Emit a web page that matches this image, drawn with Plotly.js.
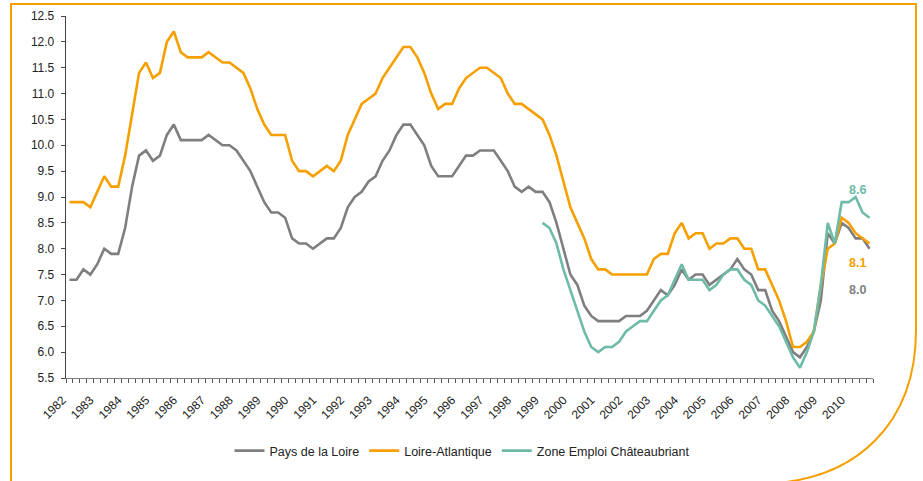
<!DOCTYPE html>
<html>
<head>
<meta charset="utf-8">
<script src="https://cdn.plot.ly/plotly-3.0.1.min.js"></script>
<style>
html,body{margin:0;padding:0;background:#fff;}
#chart{width:923px;height:481px;}
</style>
</head>
<body>
<div id="chart"></div>
<script>
// Quarterly series, 1982 Q1 -> 2010 Q4
var years = [1982,1983,1984,1985,1986,1987,1988,1989,1990,1991,1992,1993,1994,1995,1996,1997,1998,1999,2000,2001,2002,2003,2004,2005,2006,2007,2008,2009,2010];

var paysDeLaLoire = [
 7.4,7.4,7.6,7.5,7.7,8.0,7.9,7.9,8.4,9.2,
 9.8,9.9,9.7,9.8,10.2,10.4,10.1,10.1,10.1,10.1,
 10.2,10.1,10.0,10.0,9.9,9.7,9.5,9.2,8.9,8.7,
 8.7,8.6,8.2,8.1,8.1,8.0,8.1,8.2,8.2,8.4,
 8.8,9.0,9.1,9.3,9.4,9.7,9.9,10.2,10.4,10.4,
 10.2,10.0,9.6,9.4,9.4,9.4,9.6,9.8,9.8,9.9,
 9.9,9.9,9.7,9.5,9.2,9.1,9.2,9.1,9.1,8.9,
 8.5,8.0,7.5,7.3,6.9,6.7,6.6,6.6,6.6,6.6,
 6.7,6.7,6.7,6.8,7.0,7.2,7.1,7.3,7.6,7.4,
 7.5,7.5,7.3,7.4,7.5,7.6,7.8,7.6,7.5,7.2,
 7.2,6.8,6.6,6.3,6.0,5.9,6.1,6.4,7.0,8.3,
 8.1,8.5,8.4,8.2,8.2,8.0
];

var loireAtlantique = [
 8.9,8.9,8.9,8.8,9.1,9.4,9.2,9.2,9.8,10.6,
 11.4,11.6,11.3,11.4,12.0,12.2,11.8,11.7,11.7,11.7,
 11.8,11.7,11.6,11.6,11.5,11.4,11.1,10.7,10.4,10.2,
 10.2,10.2,9.7,9.5,9.5,9.4,9.5,9.6,9.5,9.7,
 10.2,10.5,10.8,10.9,11.0,11.3,11.5,11.7,11.9,11.9,
 11.7,11.4,11.0,10.7,10.8,10.8,11.1,11.3,11.4,11.5,
 11.5,11.4,11.3,11.0,10.8,10.8,10.7,10.6,10.5,10.2,
 9.8,9.3,8.8,8.5,8.2,7.8,7.6,7.6,7.5,7.5,
 7.5,7.5,7.5,7.5,7.8,7.9,7.9,8.3,8.5,8.2,
 8.3,8.3,8.0,8.1,8.1,8.2,8.2,8.0,8.0,7.6,
 7.6,7.3,7.0,6.6,6.1,6.1,6.2,6.4,7.3,8.0,
 8.1,8.6,8.5,8.3,8.2,8.1
];

var zoneChateaubriant = [
 null,null,null,null,null,null,null,null,null,null,
 null,null,null,null,null,null,null,null,null,null,
 null,null,null,null,null,null,null,null,null,null,
 null,null,null,null,null,null,null,null,null,null,
 null,null,null,null,null,null,null,null,null,null,
 null,null,null,null,null,null,null,null,null,null,
 null,null,null,null,null,null,null,null,8.5,8.4,
 8.1,7.6,7.2,6.8,6.4,6.1,6.0,6.1,6.1,6.2,
 6.4,6.5,6.6,6.6,6.8,7.0,7.1,7.4,7.7,7.4,
 7.4,7.4,7.2,7.3,7.5,7.6,7.6,7.4,7.3,7.0,
 6.9,6.7,6.5,6.2,5.9,5.7,6.0,6.4,7.3,8.5,
 8.1,8.9,8.9,9.0,8.7,8.6
];

var seriesNames = ["Pays de la Loire","Loire-Atlantique","Zone Emploi Châteaubriant"];
var seriesColors = ["#7f7f7f","#f5a000","#6dbba8"];

var n = paysDeLaLoire.length;
var xIdx = [];
for (var i = 0; i < n; i++) xIdx.push(i);
var yearTickVals = years.map(function(y){ return (y - years[0]) * 4; });
var yearTickText = years.map(String);

var allSeries = [paysDeLaLoire, loireAtlantique, zoneChateaubriant];
var traces = allSeries.map(function(s, j){
  return {
    x: xIdx, y: s, type: 'scatter', mode: 'lines',
    name: seriesNames[j],
    line: {color: seriesColors[j], width: 2.6},
    connectgaps: false,
    hoverinfo: 'x+y'
  };
});

var W = 923, H = 481;
var M = {l: 66, r: 50, t: 16, b: 103};
var pw = W - M.l - M.r, ph = H - M.t - M.b;
function px(x){ return (x - M.l) / pw; }
function py(y){ return (H - M.b - y) / ph; }

// orange frame with rounded bottom-right corner
var fx0 = px(11), fx1 = px(916), fy0 = py(4), fyBottom = py(484), fyArc = py(330);
var framePath = 'M ' + fx0 + ',' + fyBottom +
  ' L ' + fx0 + ',' + fy0 +
  ' L ' + fx1 + ',' + fy0 +
  ' L ' + fx1 + ',' + fyArc +
  ' C ' + fx1 + ',' + py(420) + ' ' + px(860) + ',' + py(484) + ' ' + px(755) + ',' + py(484);

var last = n - 1;
var endLabels = [
  {v: zoneChateaubriant[last], c: seriesColors[2], ys: 28},
  {v: loireAtlantique[last], c: seriesColors[1], ys: -19},
  {v: paysDeLaLoire[last], c: seriesColors[0], ys: -41}
];
var annotations = endLabels.map(function(l){
  return {
    x: last, y: l.v, xref: 'x', yref: 'y',
    text: '<b>' + l.v.toFixed(1) + '</b>',
    showarrow: false, xshift: -12, yshift: l.ys,
    font: {family: 'Liberation Sans, Arial, sans-serif', size: 12.5, color: l.c}
  };
});

var layout = {
  width: W, height: H,
  margin: M,
  paper_bgcolor: '#ffffff', plot_bgcolor: '#ffffff',
  font: {family: 'Liberation Sans, Arial, sans-serif', size: 12, color: '#222'},
  showlegend: true,
  legend: {
    orientation: 'h', x: px(462), xanchor: 'center', y: py(451), yanchor: 'middle',
    font: {size: 12.5, color: '#222'}, itemwidth: 30, tracegroupgap: 0
  },
  xaxis: {
    range: [-0.5, n - 0.5],
    tickmode: 'array', tickvals: yearTickVals, ticktext: yearTickText,
    tickangle: -45, ticks: '', showgrid: false, zeroline: false,
    showline: true, linecolor: '#7f7f7f', linewidth: 1.3,
    ticklabelstandoff: 9, ticklabelshift: -7,
    tickfont: {size: 12, color: '#222'},
    minor: {tickmode: 'linear', tick0: -0.5, dtick: 1, ticks: 'outside', ticklen: 4, tickcolor: '#555', tickwidth: 1, showgrid: false}
  },
  yaxis: {
    range: [5.5, 12.5], tickmode: 'linear', tick0: 5.5, dtick: 0.5,
    tickformat: '.1f', ticks: 'outside', ticklen: 4, tickcolor: '#444',
    showline: true, linecolor: '#444', linewidth: 1.3,
    showgrid: false, zeroline: false, ticklabelstandoff: 4,
    tickfont: {size: 12, color: '#222'}
  },
  shapes: [{
    type: 'path', xref: 'paper', yref: 'paper', path: framePath,
    line: {color: '#f5a000', width: 2}, layer: 'below'
  }],
  annotations: annotations
};

Plotly.newPlot('chart', traces, layout, {displayModeBar: false, staticPlot: true});
</script>
</body>
</html>
